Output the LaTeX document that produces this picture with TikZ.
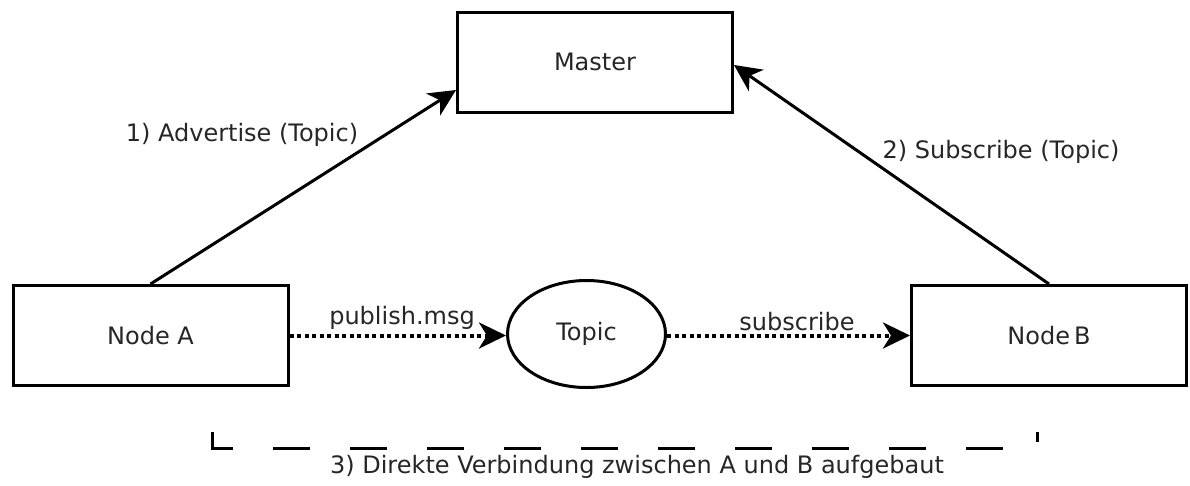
\documentclass[tikz,border=0pt]{standalone}
\usepackage{fontspec}
\setmainfont{DejaVu Sans}
\usetikzlibrary{arrows.meta,shapes.geometric}
\begin{document}
\begin{tikzpicture}[x=1pt,y=1pt,
  box/.style={draw,line width=3pt,minimum width=275pt,minimum height=100pt,inner sep=0pt},
  topicshape/.style={draw,ellipse,line width=3pt,minimum width=158pt,minimum height=107pt,inner sep=0pt},
  txt/.style={text=black!85,font=\fontsize{24}{28}\selectfont},
  solidarrow/.style={line width=3pt,-{Stealth[length=27pt,width=26pt,inset=8pt]}},
  dotarrow/.style={line width=4pt,dash pattern=on 4pt off 3.5pt,-{Stealth[length=27pt,width=26pt,inset=8pt]}},
  lbl/.style={txt,inner sep=0pt}]
\useasboundingbox (0,0) rectangle (1190,-485);
\node[box,txt] (master) at (595,-62) {Master};
\node[box,txt] (nodeA) at (150.5,-335.5) {Node A};
\node[box,txt] (nodeB) at (1049,-335.5) {Node\,B};
\node[topicshape,txt] (topic) at (586.5,-334) {Topic};
\draw[solidarrow] (nodeA.north) -- ([yshift=-28pt]master.west);
\draw[solidarrow] (nodeB.north) -- ([yshift=-3pt]master.east);
\draw[dotarrow] (nodeA.east) -- (nodeA.east -| topic.west);
\draw[dotarrow] (nodeB.west -| topic.east) -- (nodeB.west);
\node[lbl] (l1) at (242,-135) {1) Advertise (Topic)};
\node[lbl] (l2) at (1001,-152) {2) Subscribe (Topic)};
\node[lbl] (l3) at (402,-318) {publish.msg};
\node[lbl] (l4) at (797,-322) {subscribe};
\node[lbl] (l5) at (637,-467) {3) Direkte Verbindung zwischen A und B aufgebaut};
\coordinate (d1) at (212,-432);
\coordinate (d2) at (212,-448);
\coordinate (d3) at (1037,-448);
\coordinate (d4) at (1037,-432);
\draw[line width=3pt,dash pattern=on 37pt off 40pt] (d1) -- (d2) -- (d3) -- (d4);
\end{tikzpicture}
\end{document}
